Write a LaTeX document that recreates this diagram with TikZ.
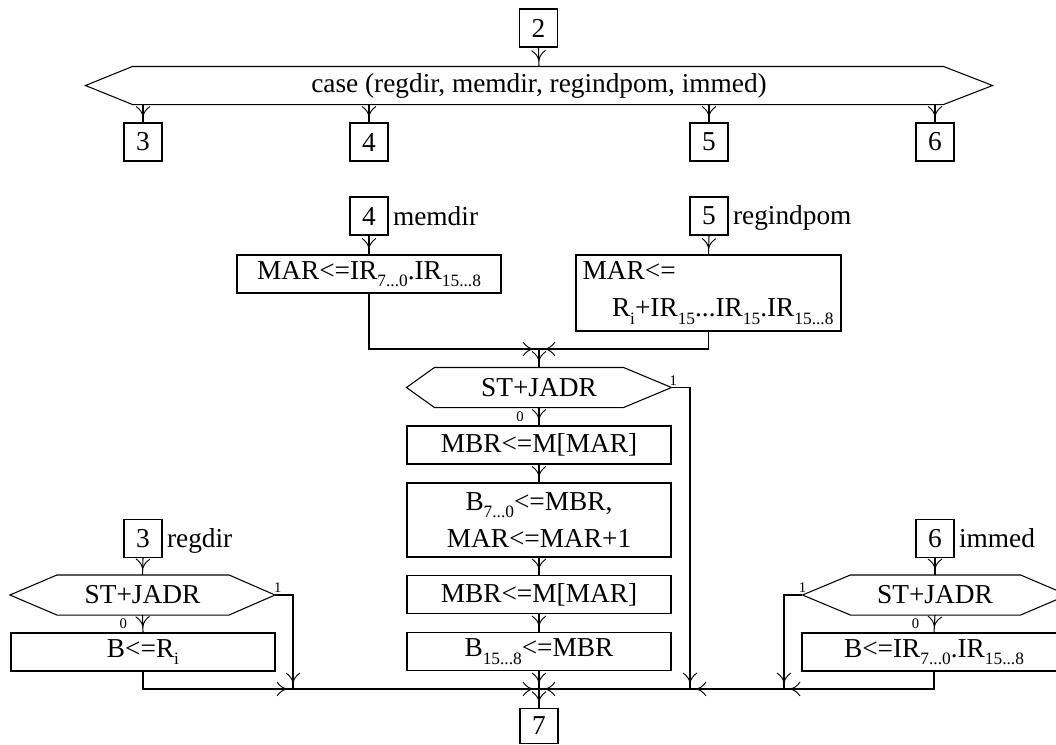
\documentclass[tikz,border=0pt]{standalone}
\usepackage{fontspec}
\setmainfont{Liberation Serif}
\usetikzlibrary{calc,decorations.markings}
% lowered, smaller index text
\newcommand\sbs[1]{\raisebox{-5.5pt}{\fontsize{13}{13}\selectfont #1}}

\begin{document}
\begin{tikzpicture}[x=0.75pt,y=-0.75pt,
  font=\fontsize{20.5}{28}\selectfont,
  line width=0.8pt,
  numbox/.style={draw, minimum width=28.5pt, minimum height=28.5pt, inner sep=0pt},
  opbox/.style={draw, minimum width=198pt, minimum height=28.5pt, inner sep=0pt, align=center},
  decbox/.style={minimum width=198pt, minimum height=29.25pt, inner sep=0pt},
  sidelabel/.style={anchor=base west, inner sep=0pt, xshift=3pt},
  flag/.style={font=\fontsize{11}{12}\selectfont, inner sep=0.5pt},
  arr/.style={postaction={decorate, decoration={markings,
      mark=at position -4.5pt with {\draw[line width=0.7pt]
        (-7.5pt,5.2pt) .. controls (-5.2pt,2pt) and (-3pt,0.6pt) .. (0,0)
        .. controls (-3pt,-0.6pt) and (-5.2pt,-2pt) .. (-7.5pt,-5.2pt);}}}}
]
\path[use as bounding box] (0,0) rectangle (1056,744);
\clip (0,0) rectangle (1056,744);

% ---- dispatch on addressing mode
\node[numbox] (b2) at (538.5,28) {2};
\node[decbox, minimum width=679.5pt, minimum height=27.75pt] (case) at (539,85.5)
  {case (regdir, memdir, regindpom, immed)};
\draw (case.west) -- ($(case.north west)+(47,0)$) -- ($(case.north east)+(-49,0)$)
  -- (case.east) -- ($(case.south east)+(-49,0)$) -- ($(case.south west)+(47,0)$) -- cycle;
\draw[arr] (b2.south) -- (case.north);

\node[numbox] (b3) at (143,142) {3};
\node[numbox] (b4) at (369,142) {4};
\node[numbox] (b5) at (709,142) {5};
\node[numbox] (b6) at (935,142) {6};
\foreach \n in {b3,b4,b5,b6} \draw[arr] (case.south -| \n) -- (\n.north);

% ---- memdir / regindpom address
\node[numbox] (c4) at (369,216) {4};
\node[sidelabel] (l4) at (c4.base east) {memdir};
\node[opbox] (mar1) at (369,274) {MAR<=IR\sbs{7...0}.IR\sbs{15...8}};
\draw[arr] (c4.south) -- (mar1.north);

\node[numbox] (c5) at (709,216) {5};
\node[sidelabel] (l5) at (c5.base east) {regindpom};
\node[opbox, minimum height=57pt, text width=188.75pt, align=left, inner xsep=5pt] (mar2) at (708.5,293)
  {MAR<=\\\hspace*{22pt}R\sbs{i}+IR\sbs{15}...IR\sbs{15}.IR\sbs{15...8}};
\draw[arr] (c5.south) -- (mar2.north);

\coordinate (jT) at (539,349);
\draw[arr] (mar1.south) |- (jT);
\draw[arr] (mar2.south) |- (jT);

% ---- operand fetch from memory
\node[decbox] (hM) at (539,387.5) {ST+JADR};
\draw (hM.west) -- ($(hM.north west)+(28,0)$) -- ($(hM.north east)+(-48,0)$) -- (hM.east)
  -- ($(hM.south east)+(-48,0)$) -- ($(hM.south west)+(28,0)$) -- cycle;
\draw[arr] (jT) -- (hM.north);
\node[flag, anchor=south west] (o1M) at ($(hM.east)+(-3,-1)$) {1};

\node[opbox] (m1) at (539,445) {MBR<=M[MAR]};
\node[opbox, minimum height=55.5pt] (m2) at (539,520) {B\sbs{7...0}<=MBR,\\MAR<=MAR+1};
\node[opbox] (m3) at (539,594.5) {MBR<=M[MAR]};
\node[opbox] (m4) at (539,651.5) {B\sbs{15...8}<=MBR};
\node[flag] (z0M) at ($(hM.south)!0.5!(m1.north)+(-19,0)$) {0};
\draw[arr] (hM.south) -- (m1.north);
\draw[arr] (m1.south) -- (m2.north);
\draw[arr] (m2.south) -- (m3.north);
\draw[arr] (m3.south) -- (m4.north);

% ---- regdir
\node[numbox] (c3) at (143,538.5) {3};
\node[sidelabel] (l3) at (c3.base east) {regdir};
\node[decbox] (hL) at (142.5,595) {ST+JADR};
\draw (hL.west) -- ($(hL.north west)+(47,0)$) -- ($(hL.north east)+(-46,0)$) -- (hL.east)
  -- ($(hL.south east)+(-46,0)$) -- ($(hL.south west)+(47,0)$) -- cycle;
\draw[arr] (c3.south) -- (hL.north);
\node[flag, anchor=south west] (o1L) at ($(hL.east)+(-2,-1)$) {1};
\node[opbox] (bL) at (143,652) {B<=R\sbs{i}};
\node[flag] (z0L) at ($(hL.south)!0.5!(bL.north)+(-19.5,0)$) {0};
\draw[arr] (hL.south) -- (bL.north);

% ---- immed
\node[numbox] (c6) at (935,538.5) {6};
\node[sidelabel] (l6) at (c6.base east) {immed};
\node[decbox] (hR) at (935,595) {ST+JADR};
\draw (hR.west) -- ($(hR.north west)+(48,0)$) -- ($(hR.north east)+(-47,0)$) -- (hR.east)
  -- ($(hR.south east)+(-47,0)$) -- ($(hR.south west)+(48,0)$) -- cycle;
\draw[arr] (c6.south) -- (hR.north);
\node[flag, anchor=south] (o1R) at ($(hR.west)+(0,-1)$) {1};
\node[opbox] (bR) at (934,652) {B<=IR\sbs{7...0}.IR\sbs{15...8}};
\node[flag] (z0R) at ($(hR.south)!0.5!(bR.north)+(-19,0)$) {0};
\draw[arr] (hR.south) -- (bR.north);

% ---- merge
\coordinate (jL) at (293,689);
\coordinate (jM) at (539,689);
\coordinate (jR1) at (690,689);
\coordinate (jR2) at (784,689);
\node[numbox, minimum height=26.6pt] (b7) at (539,726) {7};

\draw[arr] (hL.east) -| (jL);
\draw[arr] (bL.south) |- (jL);
\draw[arr] (jL) -- (jM);
\draw[arr] (m4.south) -- (jM);
\draw[arr] (hM.east) -| (jR1);
\draw[arr] (jR1) -- (jM);
\draw[arr] (jR2) -- (jR1);
\draw[arr] (hR.west) -| (jR2);
\draw[arr] (bR.south) |- (jR2);
\draw[arr] (jM) -- (b7.north);
\end{tikzpicture}
\end{document}
